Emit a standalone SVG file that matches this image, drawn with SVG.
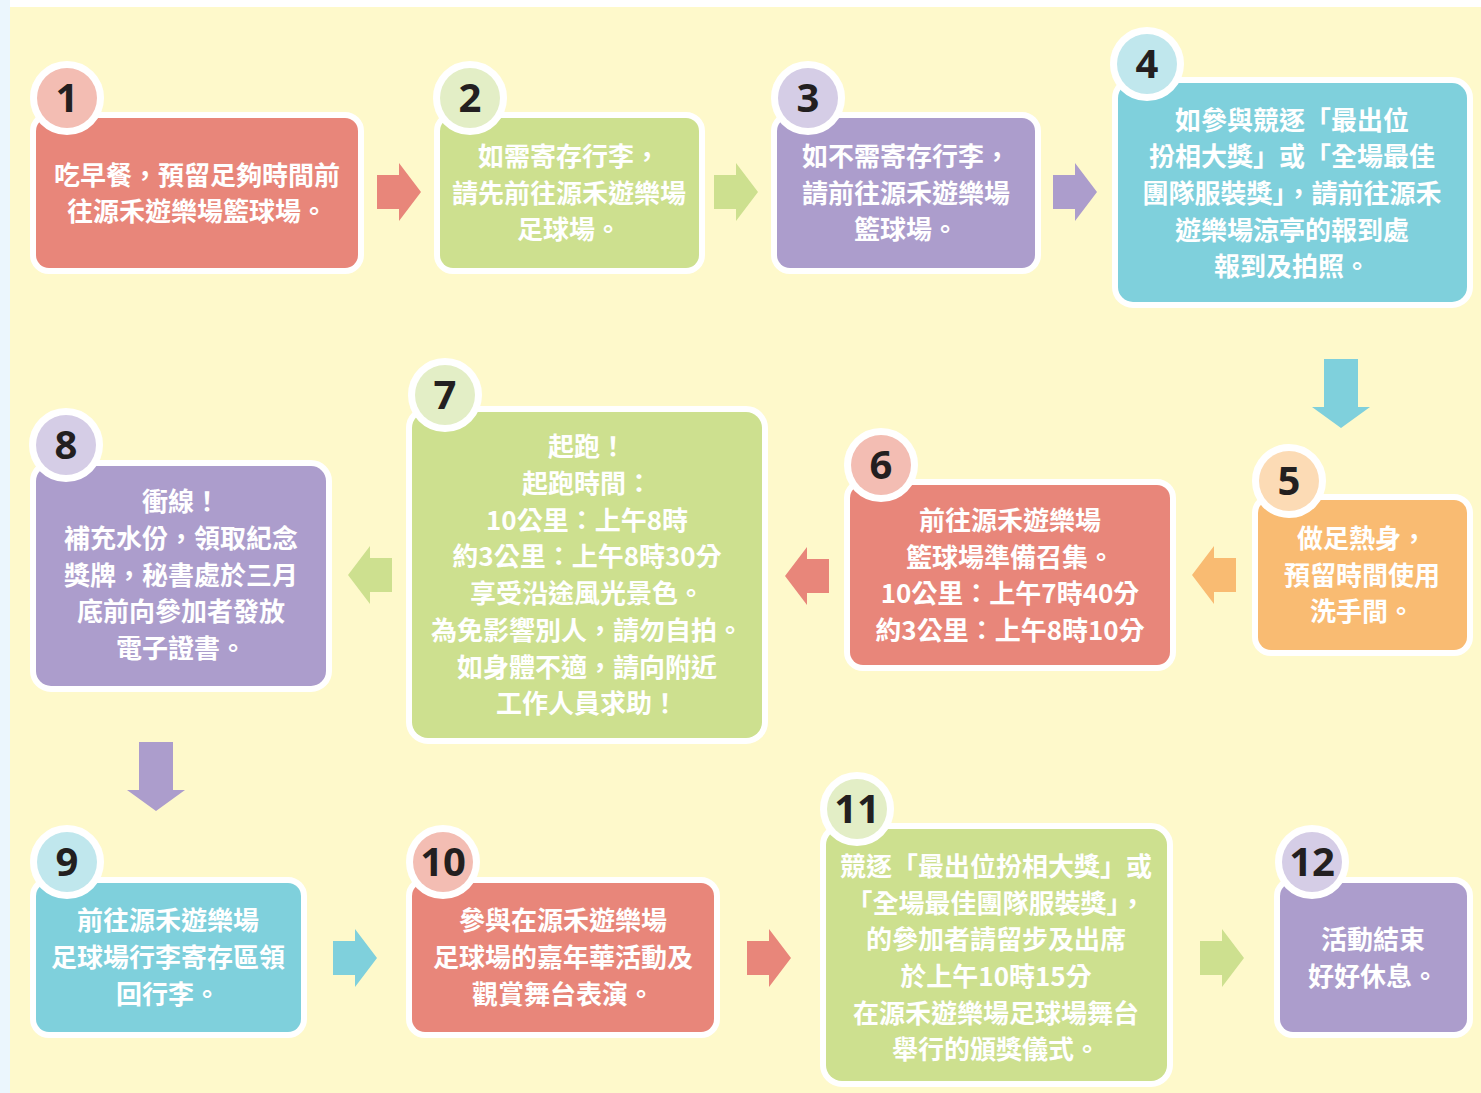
<svg xmlns="http://www.w3.org/2000/svg" width="1481" height="1093" viewBox="0 0 1481 1093">
<defs>
<style>
.box{stroke:#fff;stroke-width:12;paint-order:stroke}
.cir{stroke:#fff;stroke-width:14;paint-order:stroke}
.num{font-family:"Open Sans","Liberation Sans",sans-serif;font-weight:700;font-size:40px;fill:#231f20;text-anchor:middle;dominant-baseline:central;transform:translateY(-2px)}
.t{font-family:"Noto Sans CJK TC","Noto Sans CJK SC",sans-serif;font-weight:700;font-size:26px;fill:#fff;text-anchor:middle;dominant-baseline:central;transform:translateY(-2px)}
.red{fill:#e8867a}.redc{fill:#f3bdb3}
.grn{fill:#cde08f}.grnc{fill:#e3eec6}
.pur{fill:#ac9dcc}.purc{fill:#d5cde6}
.blu{fill:#7fd0dc}.bluc{fill:#c0e7ed}
.org{fill:#f9bb72}.orgc{fill:#fcdbb5}
</style>
<path id="ar" d="M0,-17 H22 V-29 L44,0 L22,29 V17 H0 Z"/>
<path id="ad" d="M-17,0 V48 H-29 L0,69 L29,48 H17 V0 Z"/>
</defs>
<rect x="0" y="0" width="1481" height="1093" fill="#ffffff"/>
<rect x="0" y="0" width="10" height="1093" fill="#ebf6fd"/>
<rect x="10" y="7" width="1471" height="1086" fill="#fef9cb"/>

<g id="connectors">
<use href="#ar" class="red" transform="translate(377,192)"/>
<use href="#ar" class="grn" transform="translate(714,192)"/>
<use href="#ar" class="pur" transform="translate(1053,192)"/>
<use href="#ad" class="blu" transform="translate(1341,359)"/>
<use href="#ar" class="org" transform="translate(1236,575) scale(-1,1)"/>
<use href="#ar" class="red" transform="translate(829,576) scale(-1,1)"/>
<use href="#ar" class="grn" transform="translate(392,575) scale(-1,1)"/>
<use href="#ad" class="pur" transform="translate(156,742)"/>
<use href="#ar" class="blu" transform="translate(333,958)"/>
<use href="#ar" class="red" transform="translate(747,958)"/>
<use href="#ar" class="grn" transform="translate(1200,958)"/>
</g>

<g id="node1">
<rect class="box red" x="36" y="118" width="322" height="150" rx="13"/>
<circle class="cir redc" cx="67" cy="98" r="30"/>
<text class="num" x="67" y="98">1</text>
<text class="t" x="197" y="175">吃早餐，預留足夠時間前</text>
<text class="t" x="197" y="211">往源禾遊樂場籃球場。</text>
</g>

<g id="node2">
<rect class="box grn" x="440" y="118" width="259" height="150" rx="13"/>
<circle class="cir grnc" cx="470" cy="98" r="30"/>
<text class="num" x="470" y="98">2</text>
<text class="t" x="569" y="156">如需寄存行李，</text>
<text class="t" x="569" y="193">請先前往源禾遊樂場</text>
<text class="t" x="569" y="229">足球場。</text>
</g>

<g id="node3">
<rect class="box pur" x="777" y="118" width="258" height="150" rx="13"/>
<circle class="cir purc" cx="808" cy="98" r="30"/>
<text class="num" x="808" y="98">3</text>
<text class="t" x="906" y="156">如不需寄存行李，</text>
<text class="t" x="906" y="193">請前往源禾遊樂場</text>
<text class="t" x="906" y="229">籃球場。</text>
</g>

<g id="node4">
<rect class="box blu" x="1118" y="83" width="349" height="219" rx="15"/>
<circle class="cir bluc" cx="1147" cy="64" r="30"/>
<text class="num" x="1147" y="64">4</text>
<text class="t" x="1292" y="120">如參與競逐「最出位</text>
<text class="t" x="1292" y="156">扮相大獎」或「全場最佳</text>
<text class="t" x="1292" y="193">團隊服裝獎」，請前往源禾</text>
<text class="t" x="1292" y="230">遊樂場涼亭的報到處</text>
<text class="t" x="1292" y="266">報到及拍照。</text>
</g>

<g id="node5">
<rect class="box org" x="1258" y="500" width="209" height="150" rx="13"/>
<circle class="cir orgc" cx="1289" cy="481" r="30"/>
<text class="num" x="1289" y="481">5</text>
<text class="t" x="1362" y="538">做足熱身，</text>
<text class="t" x="1362" y="575">預留時間使用</text>
<text class="t" x="1362" y="611">洗手間。</text>
</g>

<g id="node6">
<rect class="box red" x="850" y="485" width="320" height="180" rx="13"/>
<circle class="cir redc" cx="881" cy="465" r="30"/>
<text class="num" x="881" y="465">6</text>
<text class="t" x="1010" y="520">前往源禾遊樂場</text>
<text class="t" x="1010" y="557">籃球場準備召集。</text>
<text class="t" x="1010" y="593">10公里：上午7時40分</text>
<text class="t" x="1010" y="630">約3公里：上午8時10分</text>
</g>

<g id="node7">
<rect class="box grn" x="412" y="412" width="350" height="326" rx="16"/>
<circle class="cir grnc" cx="445" cy="395" r="30"/>
<text class="num" x="445" y="395">7</text>
<text class="t" x="587" y="446">起跑！</text>
<text class="t" x="587" y="483">起跑時間：</text>
<text class="t" x="587" y="520">10公里：上午8時</text>
<text class="t" x="587" y="556">約3公里：上午8時30分</text>
<text class="t" x="587" y="593">享受沿途風光景色。</text>
<text class="t" x="587" y="630">為免影響別人，請勿自拍。</text>
<text class="t" x="587" y="667">如身體不適，請向附近</text>
<text class="t" x="587" y="703">工作人員求助！</text>
</g>

<g id="node8">
<rect class="box pur" x="36" y="466" width="290" height="220" rx="15"/>
<circle class="cir purc" cx="66" cy="445" r="30"/>
<text class="num" x="66" y="445">8</text>
<text class="t" x="181" y="501">衝線！</text>
<text class="t" x="181" y="538">補充水份，領取紀念</text>
<text class="t" x="181" y="575">獎牌，秘書處於三月</text>
<text class="t" x="181" y="611">底前向參加者發放</text>
<text class="t" x="181" y="648">電子證書。</text>
</g>

<g id="node9">
<rect class="box blu" x="36" y="883" width="265" height="149" rx="13"/>
<circle class="cir bluc" cx="67" cy="862" r="30"/>
<text class="num" x="67" y="862">9</text>
<text class="t" x="168" y="920">前往源禾遊樂場</text>
<text class="t" x="168" y="957">足球場行李寄存區領</text>
<text class="t" x="168" y="994">回行李。</text>
</g>

<g id="node10">
<rect class="box red" x="412" y="883" width="302" height="149" rx="13"/>
<circle class="cir redc" cx="443" cy="862" r="30"/>
<text class="num" x="443" y="862">10</text>
<text class="t" x="563" y="920">參與在源禾遊樂場</text>
<text class="t" x="563" y="957">足球場的嘉年華活動及</text>
<text class="t" x="563" y="994">觀賞舞台表演。</text>
</g>

<g id="node11">
<rect class="box grn" x="826" y="829" width="341" height="252" rx="16"/>
<circle class="cir grnc" cx="857" cy="809" r="30"/>
<text class="num" x="857" y="809">11</text>
<text class="t" x="996" y="866">競逐「最出位扮相大獎」或</text>
<text class="t" x="996" y="903">「全場最佳團隊服裝獎」，</text>
<text class="t" x="996" y="939">的參加者請留步及出席</text>
<text class="t" x="996" y="976">於上午10時15分</text>
<text class="t" x="996" y="1013">在源禾遊樂場足球場舞台</text>
<text class="t" x="996" y="1049">舉行的頒獎儀式。</text>
</g>

<g id="node12">
<rect class="box pur" x="1280" y="883" width="187" height="149" rx="13"/>
<circle class="cir purc" cx="1312" cy="862" r="30"/>
<text class="num" x="1312" y="862">12</text>
<text class="t" x="1373" y="939">活動結束</text>
<text class="t" x="1373" y="976">好好休息。</text>
</g>
</svg>
